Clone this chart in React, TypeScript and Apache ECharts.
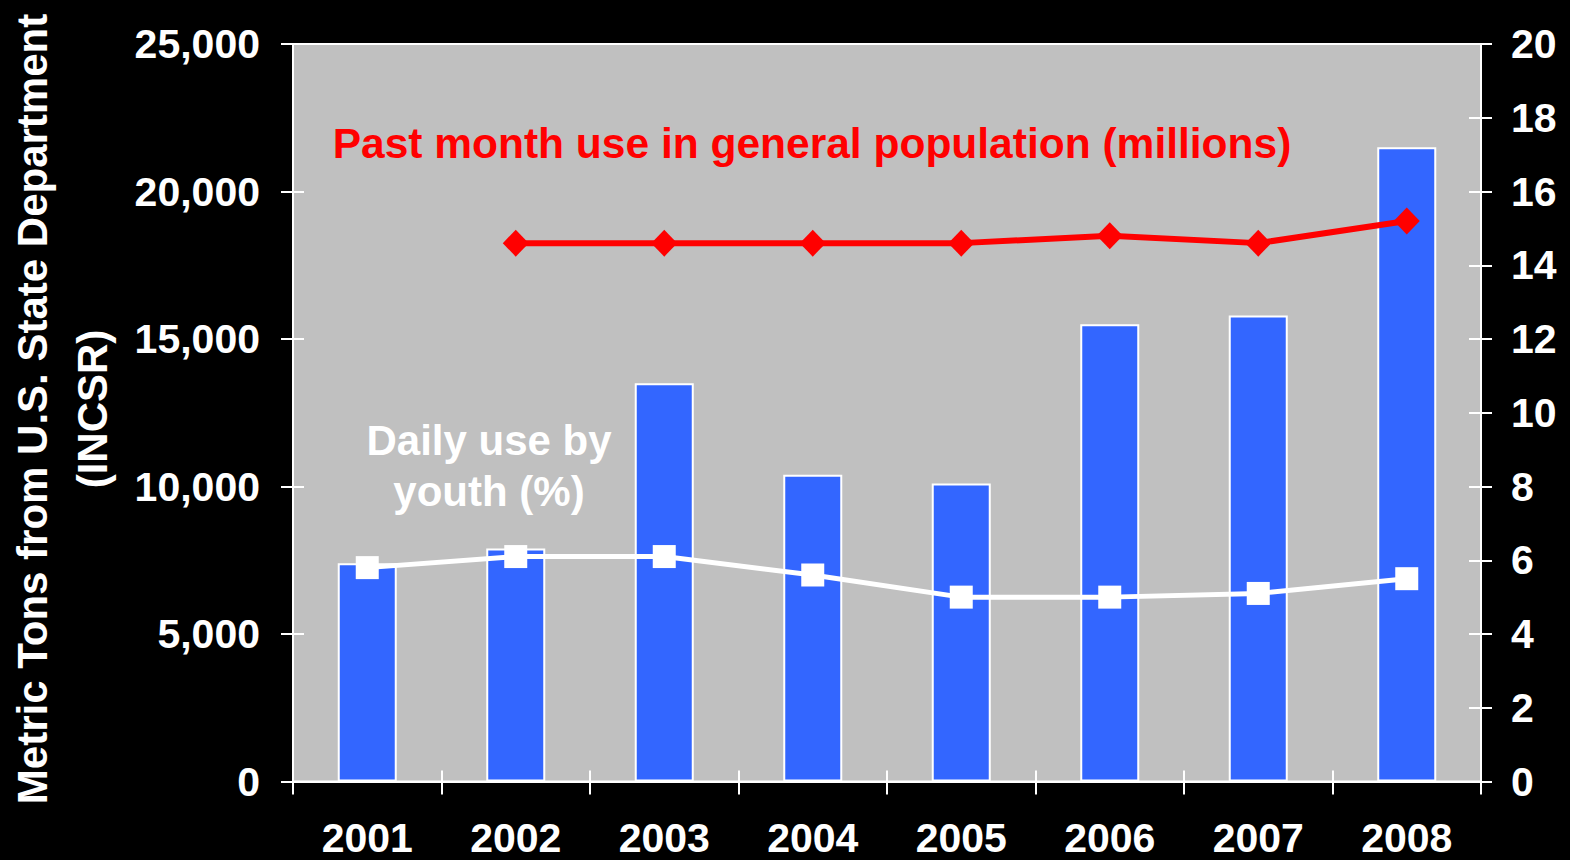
import React, { useEffect, useRef } from "react";
import * as echarts from "echarts";

const years = ["2001", "2002", "2003", "2004", "2005", "2006", "2007", "2008"];
const metricTons = [7400, 7900, 13500, 10400, 10100, 15500, 15800, 21500];
const pastMonthUse = [null, 14.6, 14.6, 14.6, 14.6, 14.8, 14.6, 15.2];
const dailyYouthUse = [5.8, 6.1, 6.1, 5.6, 5.0, 5.0, 5.1, 5.5];

const leftAxis = { min: 0, max: 25000, interval: 5000 };
const rightAxis = { min: 0, max: 20, interval: 2 };

const yAxisTitle = "Metric Tons from U.S. State Department\n(INCSR)";
const redLabel = "Past month use in general population (millions)";
const whiteLabel = "Daily use by\nyouth (%)";

const FONT = '"Liberation Sans", Arial, Helvetica, sans-serif';

export default function App() {
  const ref = useRef<HTMLDivElement>(null);

  useEffect(() => {
    if (!ref.current) return;
    const chart = echarts.init(ref.current, null, { renderer: "svg" });

    const tickLabel = {
      color: "#fff",
      fontFamily: FONT,
      fontWeight: "bold" as const,
      fontSize: 41,
    };
    const line = { show: true, lineStyle: { color: "#fff", width: 2 } };

    chart.setOption({
      animation: false,
      backgroundColor: "#000",
      grid: {
        left: 293,
        right: 89,
        top: 44,
        bottom: 78.5,
        show: true,
        backgroundColor: "#c0c0c0",
        borderColor: "#fff",
        borderWidth: 2,
      },
      xAxis: [
        {
          type: "category",
          data: years,
          boundaryGap: true,
          axisLine: line,
          axisTick: { show: true, length: 13, lineStyle: { color: "#fff", width: 2 } },
          axisLabel: { ...tickLabel, margin: 41, lineHeight: 30 },
          splitLine: { show: false },
        },
        {
          type: "category",
          data: years,
          position: "bottom",
          boundaryGap: true,
          axisLine: { show: false },
          axisTick: { show: true, inside: true, length: 11, lineStyle: { color: "#fff", width: 2 } },
          axisLabel: { show: false },
          splitLine: { show: false },
        },
      ],
      yAxis: [
        {
          type: "value",
          position: "left",
          ...leftAxis,
          axisLine: line,
          axisTick: { show: true, length: 12, lineStyle: { color: "#fff", width: 2 } },
          axisLabel: {
            ...tickLabel,
            margin: 33,
            formatter: (v: number) => v.toLocaleString("en-US"),
          },
          splitLine: { show: false },
        },
        {
          type: "value",
          position: "right",
          ...rightAxis,
          axisLine: line,
          axisTick: { show: true, length: 11, lineStyle: { color: "#fff", width: 2 } },
          axisLabel: { ...tickLabel, margin: 30 },
          splitLine: { show: false },
        },
        {
          type: "value",
          position: "left",
          ...leftAxis,
          axisLine: { show: false },
          axisTick: { show: true, inside: true, length: 11, lineStyle: { color: "#fff", width: 2 } },
          axisLabel: { show: false },
          splitLine: { show: false },
        },
        {
          type: "value",
          position: "right",
          ...rightAxis,
          axisLine: { show: false },
          axisTick: { show: true, inside: true, length: 12, lineStyle: { color: "#fff", width: 2 } },
          axisLabel: { show: false },
          splitLine: { show: false },
        },
      ],
      series: [
        {
          type: "bar",
          xAxisIndex: 0,
          yAxisIndex: 0,
          data: metricTons,
          barWidth: 59,
          itemStyle: { color: "#3366ff", borderColor: "#fff", borderWidth: 2 },
          z: 2,
        },
        {
          type: "line",
          xAxisIndex: 0,
          yAxisIndex: 1,
          data: pastMonthUse,
          symbol: "diamond",
          symbolSize: [26, 27],
          lineStyle: { color: "#ff0000", width: 6 },
          itemStyle: { color: "#ff0000" },
          z: 3,
        },
        {
          type: "line",
          xAxisIndex: 0,
          yAxisIndex: 1,
          data: dailyYouthUse,
          symbol: "rect",
          symbolSize: 23,
          lineStyle: { color: "#ffffff", width: 5 },
          itemStyle: { color: "#ffffff" },
          z: 3,
        },
      ],
      graphic: [
        {
          type: "text",
          x: 62,
          y: 409,
          rotation: Math.PI / 2,
          style: {
            text: yAxisTitle,
            fill: "#fff",
            font: `bold 42px ${FONT}`,
            align: "center",
            verticalAlign: "middle",
            textAlign: "center",
            textVerticalAlign: "middle",
            lineHeight: 60,
          },
        },
        {
          type: "text",
          x: 812,
          y: 143,
          style: {
            text: redLabel,
            fill: "#ff0000",
            font: `bold 42.5px ${FONT}`,
            align: "center",
            verticalAlign: "middle",
            textAlign: "center",
            textVerticalAlign: "middle",
          },
        },
        {
          type: "text",
          x: 489,
          y: 466,
          style: {
            text: whiteLabel,
            fill: "#fff",
            font: `bold 42px ${FONT}`,
            align: "center",
            verticalAlign: "middle",
            textAlign: "center",
            textVerticalAlign: "middle",
            lineHeight: 51,
          },
        },
      ],
    });

    return () => chart.dispose();
  }, []);

  return (
    <div
      ref={ref}
      style={{ position: "fixed", left: 0, top: 0, width: 1570, height: 860, background: "#000" }}
    />
  );
}
